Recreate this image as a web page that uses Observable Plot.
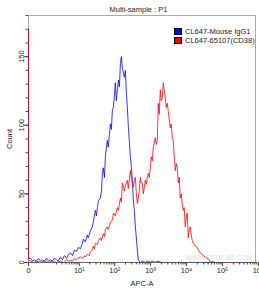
<!DOCTYPE html>
<html><head><meta charset="utf-8">
<script src="https://cdn.jsdelivr.net/npm/d3@7"></script>
<script src="https://cdn.jsdelivr.net/npm/@observablehq/plot@0.6"></script>
<style>
body{margin:0;background:#fff;font-family:"Liberation Sans",Arial,sans-serif;}
#wrap{position:relative;width:259px;height:291px;overflow:hidden;}
#title{position:absolute;left:28px;width:221px;top:5px;text-align:center;font-size:7.5px;line-height:9px;color:#222;}
#legend{position:absolute;left:174px;top:27px;font-size:7.5px;line-height:9px;color:#222;}
.row{display:flex;align-items:center;height:9px;}
.sw{width:8px;height:7px;border:0.5px solid #000;margin-right:3px;box-sizing:border-box;}
</style></head>
<body>
<div id="wrap">
<div id="title"></div>
<div id="legend"></div>
</div>
<script>
const title = "Multi-sample : P1";
const xLabel = "APC-A";
const yLabel = "Count";
const seriesNames = ["CL647-Mouse IgG1", "CL647-65107(CD38)"];
const seriesColors = ["#0000ff", "#ff0000"];
const yTicks = [0, 50, 100, 150];
const xTicks = [0, 10, 100, 1000, 10000, 100000, 1000000];
const xTickLabels = ["0", "10\u00b9", "10\u00b2", "10\u00b3", "10\u2074", "10\u2075", "10\u2076"];
const watermark = "WWW.PTGLAB.COM";

const blueX = [0, 0, 0.055, 0.12, 0.19, 0.27, 0.36, 0.46, 0.58, 0.71, 0.86, 1.03, 1.23, 1.45, 1.7, 2.0, 2.3, 2.7, 3.1, 3.6, 4.2, 4.8, 5.5, 6.3, 7.2, 8.3, 9.4, 10.8, 12.3, 13.1, 14.9, 17, 18, 20.7, 23.5, 25.2, 28.7, 30.7, 32.7, 34.8, 39.7, 42.4, 45, 48, 51.5, 55, 62, 66, 75.6, 80.5, 86, 92, 98, 104, 111, 119, 127, 135, 144, 153, 163, 174, 186, 198, 211, 225, 240, 256, 273, 291, 310, 331, 353, 376, 401, 427, 455, 517, 588, 712, 860, 981, 1115, 1351, 1640, 2000, 830000];
const blueCount = [170, 3, 3, 1, 2, 1, 3, 1, 2, 1, 3, 1, 2, 1, 3, 2, 1, 4, 2, 5, 3, 6, 7, 5, 9, 8, 11, 10, 14, 17, 15, 20, 18, 23, 26, 30, 38, 34, 40, 45, 47, 52, 65, 69, 62, 78, 89, 84, 101, 97, 111, 113, 122, 131, 118, 126, 133, 128, 145, 150, 142, 138, 135, 140, 124, 113, 99, 88, 77, 70, 60, 45, 38, 26, 18, 9, 2, 0, 1, 0, 1, 0, 1, 0, 1, 0, 0];

const redX = [0, 0, 0.055, 0.16, 0.27, 0.46, 0.71, 1.03, 1.45, 2.0, 2.7, 3.4, 4.2, 4.8, 5.5, 6.3, 7.2, 8.3, 8.9, 10.8, 12.3, 14, 14.9, 17, 19.4, 20.7, 23.5, 25.2, 27, 28.7, 32.7, 34.8, 39.7, 42.4, 48, 51.5, 55, 62, 66, 75.6, 86, 92, 104, 119, 127, 144, 153, 163, 174, 186, 198, 225, 240, 273, 291, 310, 331, 353, 376, 401, 427, 455, 485, 517, 550, 588, 627, 668, 712, 760, 810, 863, 920, 981, 1047, 1115, 1189, 1268, 1351, 1440, 1536, 1638, 1745, 1859, 1983, 2113, 2254, 2403, 2563, 2730, 2912, 3104, 3309, 3530, 3763, 4010, 4274, 4560, 4860, 5180, 5524, 5888, 6280, 6688, 7135, 7608, 8104, 8640, 9216, 9825, 10472, 11168, 11900, 12688, 13530, 14432, 15376, 17500, 19864, 21200, 24072, 27300, 29188, 33200, 37700, 42800, 45600, 51900, 62800, 830000];
const redCount = [170, 2, 1, 0, 1, 0, 1, 0, 1, 0, 1, 0, 2, 1, 1.5, 1, 3, 2, 3, 4, 3, 5, 4, 6, 5, 8, 9, 12, 10, 14, 13, 16, 18, 16, 21, 19, 24, 26, 24, 29, 31, 36, 34, 40, 38, 47, 44, 58, 55, 52, 56, 60, 54, 67, 62, 58, 55, 60, 62, 50, 43, 47, 52, 62, 58, 58, 50, 55, 60, 57, 62, 65, 62, 69, 77, 74, 84, 87, 91, 86, 89, 116, 108, 126, 118, 120, 131, 125, 120, 113, 116, 110, 104, 98, 101, 91, 89, 77, 67, 72, 69, 58, 62, 47, 50, 43, 38, 40, 26, 33, 36, 18, 24, 26, 20, 16, 14, 12, 11, 9, 7, 6, 5, 4, 3, 2, 0, 1, 0, 0];

const minorX = [];
for (const p of [1, 10, 100, 1000, 10000, 100000]) for (let m = 2; m <= 9; m++) minorX.push(m * p);
const minorY = d3.range(0, 181, 10);

const nB = Math.min(blueX.length, blueCount.length);
const nR = Math.min(redX.length, redCount.length);

const font = '"Liberation Sans", Arial, sans-serif';
const chart = Plot.plot({
  width: 259, height: 291,
  marginLeft: 28, marginRight: 4, marginTop: 15, marginBottom: 29,
  style: {fontFamily: font, fontSize: "7.5px", color: "#222", background: "transparent"},
  x: {type: "symlog", constant: 0.4, domain: [0, 830000]},
  y: {domain: [0, 180]},
  marks: [
    Plot.frame({stroke: "#aaa"}),
    Plot.text([watermark], {frameAnchor: "bottom-right", dx: -3, dy: -3, fill: "#e2e2e2", fontSize: 7}),
    Plot.line({length: nB}, {x: blueX.slice(0, nB), y: blueCount.slice(0, nB), stroke: seriesColors[0], strokeWidth: 0.8}),
    Plot.line({length: nR}, {x: redX.slice(0, nR), y: redCount.slice(0, nR), stroke: seriesColors[1], strokeWidth: 0.8}),
    Plot.ruleY([0], {stroke: "#555", strokeWidth: 0.8}),
    Plot.axisX({ticks: xTicks, tickFormat: (d, i) => xTickLabels[i], tickSize: 4, tickPadding: 1.5, stroke: "#444",
      label: xLabel, labelAnchor: "center", labelArrow: "none", labelOffset: 23}),
    Plot.axisX({ticks: minorX, tickFormat: () => "", tickSize: 2.5, stroke: "#444", label: null}),
    Plot.axisY({ticks: yTicks, tickSize: 4, tickPadding: 1, tickRotate: -90, stroke: "#444",
      label: yLabel, labelAnchor: "center", labelArrow: "none", labelOffset: 22}),
    Plot.axisY({ticks: minorY, tickFormat: () => "", tickSize: 2.5, stroke: "#444", label: null})
  ]
});
document.getElementById("wrap").prepend(chart);
document.getElementById("title").textContent = title;
const leg = document.getElementById("legend");
seriesNames.forEach((n, i) => {
  const r = document.createElement("div"); r.className = "row";
  const s = document.createElement("div"); s.className = "sw"; s.style.background = seriesColors[i];
  const t = document.createElement("span"); t.textContent = n;
  r.append(s, t); leg.append(r);
});
</script>
</body></html>
